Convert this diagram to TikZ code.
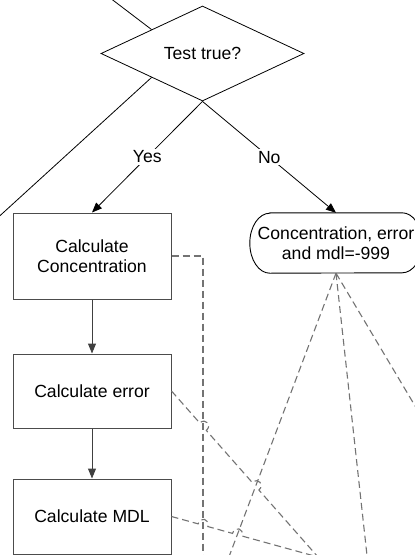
\documentclass[tikz,border=0pt]{standalone}
\usepackage{fontspec}
\setmainfont{Liberation Sans}
\usetikzlibrary{shapes.geometric,arrows.meta,calc}

\begin{document}
\begin{tikzpicture}[x=1pt,y=-1pt,
  every node/.style={font=\fontsize{17.6}{20.5}\selectfont},
  decision/.style={diamond, draw=black, line width=0.8pt, minimum width=203pt,
    minimum height=95pt, inner sep=0pt, aspect=2.1},
  process/.style={rectangle, draw=black!70, line width=1pt, minimum width=158pt,
    align=center, inner sep=0pt},
  terminalbox/.style={rectangle, minimum width=172pt, minimum height=60pt,
    align=center, inner sep=0pt},
  flow/.style={draw=black, line width=0.8pt},
  arrowflow/.style={flow, -{Triangle[length=10pt,width=8pt]}},
  stepflow/.style={draw=black!75, line width=1pt, -{Triangle[length=10pt,width=8pt]}},
  branchtext/.style={fill=white, inner sep=1.5pt},
  link/.style={draw=black!55, line width=1.1pt, dash pattern=on 7pt off 4pt},
]
\useasboundingbox (0,0) rectangle (415,555);
\clip (0,0) rectangle (415,555);

% nodes
\node[decision] (test) at (202.5,53.5) {Test true?};
\node[process, minimum height=86pt] (conc) at (92,256) {Calculate\\Concentration};
\node[process, minimum height=74pt] (err) at (92,391) {Calculate error};
\node[process, minimum height=75pt] (mdl) at (92,516.5) {Calculate MDL};
\node[terminalbox] (nodata) at (336,243) {Concentration, error\\and mdl=-999};
% terminal outline with elliptical ends
\draw[line width=0.9pt] ([xshift=20pt]nodata.north west) -- ([xshift=-20pt]nodata.north east)
  arc[start angle=90, end angle=-90, x radius=20pt, y radius=30pt]
  -- ([xshift=20pt]nodata.south west)
  arc[start angle=270, end angle=90, x radius=20pt, y radius=30pt] -- cycle;

% free ends of connectors leaving the page
\coordinate (in1) at (74,-29.5);
\coordinate (out1) at (-30,243);
\coordinate (v1) at (203,300);
\coordinate (down1) at (203,570);
\coordinate (sink) at (318,557);
\coordinate (t1) at (224,570);
\coordinate (t2) at (368.6,570);
\coordinate (t3) at (430,431);

% solid flow
\draw[flow] (in1) -- (test.north west);
\draw[flow] (test.south west) -- (out1);
\draw[arrowflow] (test.south) -- node[branchtext] {Yes} (conc.north);
\draw[arrowflow] (test.south) -- node[branchtext] {No} (nodata.north);
\draw[stepflow] (conc.south) -- (err.north);
\draw[stepflow] (err.south) -- (mdl.north);

% dashed links
\draw[link] (conc.east) -| (down1);
\draw[link] (nodata.south) -- (t1);
\draw[link] (nodata.south) -- (t2);
\draw[link] (nodata.south) -- (t3);

% crossing points for line hops
\coordinate (x1) at (intersection of err.east--sink and v1--down1);
\coordinate (x2) at (intersection of err.east--sink and nodata.south--t1);
\coordinate (x3) at (intersection of mdl.east--sink and v1--down1);
\coordinate (x4) at (intersection of mdl.east--sink and nodata.south--t1);
% hop ends on each side of a crossing
\foreach \x/\s/\e in {x1/err/sink, x2/err/sink, x3/mdl/sink, x4/mdl/sink} {
  \coordinate (\x a) at ($(\x)!5pt!(\s.east)$);
  \coordinate (\x b) at ($(\x)!5pt!(\e)$);
}

\draw[link] (err.east) -- (x1a)
  .. controls ($(x1a)!0.8!90:(x1b)$) and ($(x1b)!0.8!-90:(x1a)$) .. (x1b)
  -- (x2a)
  .. controls ($(x2a)!0.8!90:(x2b)$) and ($(x2b)!0.8!-90:(x2a)$) .. (x2b)
  -- (sink);
\draw[link] (mdl.east) -- (x3a)
  .. controls ($(x3a)!0.8!90:(x3b)$) and ($(x3b)!0.8!-90:(x3a)$) .. (x3b)
  -- (x4a)
  .. controls ($(x4a)!0.8!90:(x4b)$) and ($(x4b)!0.8!-90:(x4a)$) .. (x4b)
  -- (sink);
\end{tikzpicture}
\end{document}
